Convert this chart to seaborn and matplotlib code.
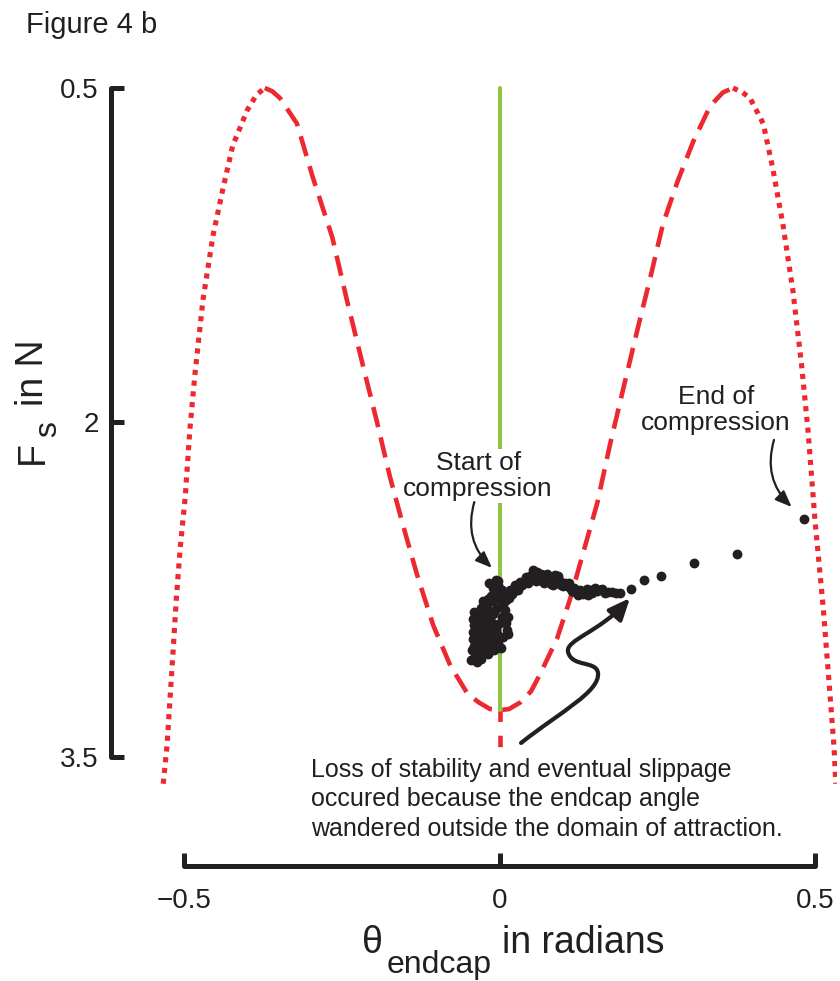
import matplotlib.pyplot as plt
from matplotlib.patches import FancyArrowPatch
from matplotlib.path import Path
import seaborn as sns

# boundary of the domain of attraction (theta_endcap in rad, F_s in N)
outer_left_theta = [-0.533, -0.527, -0.522, -0.517, -0.512, -0.506, -0.498, -0.491,
                    -0.483, -0.470, -0.454, -0.439, -0.423, -0.400, -0.385, -0.372]
outer_left_force = [3.62, 3.45, 3.23, 3.01, 2.78, 2.56, 2.33, 2.04,
                    1.79, 1.45, 1.16, 0.96, 0.76, 0.60, 0.53, 0.50]

inner_theta = [-0.372, -0.360, -0.348, -0.321, -0.296, -0.265, -0.242, -0.216, -0.194,
               -0.174, -0.153, -0.131, -0.105, -0.078, -0.051, -0.033, -0.015, 0.0,
               0.015, 0.033, 0.050, 0.064, 0.091, 0.112, 0.132, 0.155, 0.175, 0.196,
               0.218, 0.239, 0.259, 0.282, 0.307, 0.334, 0.354, 0.370]
inner_force = [0.50, 0.515, 0.545, 0.66, 0.90, 1.17, 1.45, 1.75, 2.00,
               2.24, 2.46, 2.68, 2.91, 3.09, 3.215, 3.255, 3.285, 3.29,
               3.285, 3.255, 3.205, 3.13, 2.97, 2.79, 2.59, 2.36, 2.10, 1.85,
               1.59, 1.35, 1.11, 0.92, 0.74, 0.58, 0.52, 0.50]

outer_right_theta = [0.370, 0.385, 0.397, 0.418, 0.433, 0.449, 0.465, 0.479,
                     0.489, 0.500, 0.513, 0.524, 0.530, 0.533]
outer_right_force = [0.50, 0.52, 0.545, 0.66, 0.86, 1.11, 1.41, 1.75,
                     2.04, 2.44, 2.83, 3.23, 3.45, 3.62]

# stable equilibrium and the stub below the minimum
equilibrium_theta = [0.0, 0.0]
equilibrium_force = [0.5, 3.29]
stub_theta = [0.0, 0.0]
stub_force = [3.29, 3.5]

# measured endcap angle during compression: dense blob near theta = 0 ...
blob_theta = [-0.006, -0.002, -0.010, 0.003, -0.006, -0.014, 0.002, -0.010, -0.020,
              -0.030, -0.018, -0.004, 0.008, -0.034, -0.022, -0.010, 0.004, -0.028,
              -0.014, 0.010, -0.034, -0.020, -0.006, 0.012, -0.028, -0.012, 0.006,
              -0.036, -0.040, -0.026, -0.012, -0.002, -0.038, -0.024, -0.008, -0.040,
              -0.030, -0.016, -0.002, 0.004, -0.018, -0.026, 0.006, -0.040, -0.042,
              -0.040, -0.042, -0.042, -0.044, -0.034, -0.018, -0.020, -0.004, 0.000,
              0.014, 0.014, -0.026, -0.008, -0.024, -0.008, 0.002, -0.016, -0.032,
              -0.046, -0.036]
blob_force = [2.706, 2.73, 2.74, 2.75, 2.77, 2.78, 2.79, 2.80, 2.81,
              2.83, 2.835, 2.83, 2.84, 2.86, 2.865, 2.86, 2.87, 2.89,
              2.895, 2.90, 2.92, 2.925, 2.92, 2.93, 2.95, 2.955, 2.96,
              2.97, 3.00, 2.99, 2.985, 2.99, 3.03, 3.025, 3.02, 3.055,
              3.06, 2.72, 2.71, 2.78, 2.79, 2.80, 2.81, 2.85, 2.88,
              2.91, 2.94, 2.97, 3.02, 3.045, 3.04, 2.96, 2.95, 2.90,
              2.87, 2.95, 2.84, 2.845, 2.91, 2.905, 3.01, 3.01, 3.015,
              3.065, 3.075]
# ... the arc of points drifting to positive angles ...
band_theta = [0.009, 0.017, 0.025, 0.032, 0.040, 0.048, 0.056, 0.064, 0.072, 0.080,
              0.088, 0.096, 0.104, 0.112, 0.120, 0.128, 0.135, 0.143, 0.151, 0.159,
              0.167, 0.178, 0.191, 0.020, 0.030, 0.045, 0.058, 0.070, 0.085, 0.100,
              0.115, 0.125, 0.140, 0.060, 0.076, 0.092, 0.012, 0.004, 0.008, 0.015,
              0.022, 0.028, 0.036, 0.042, 0.052, 0.066, 0.068, 0.078, 0.082, 0.094,
              0.098, 0.108, 0.110, 0.118, 0.122, 0.132, 0.138, 0.146, 0.155, 0.163,
              0.172, 0.184, 0.053, 0.047, 0.088]
band_force = [2.77, 2.75, 2.73, 2.715, 2.71, 2.69, 2.68, 2.70, 2.69, 2.71,
              2.70, 2.715, 2.72, 2.74, 2.76, 2.75, 2.76, 2.75, 2.74, 2.75,
              2.765, 2.76, 2.765, 2.77, 2.75, 2.72, 2.71, 2.72, 2.73, 2.735,
              2.755, 2.775, 2.775, 2.67, 2.68, 2.69, 2.79, 2.75, 2.80, 2.785,
              2.76, 2.735, 2.73, 2.695, 2.70, 2.68, 2.71, 2.695, 2.725, 2.705,
              2.73, 2.735, 2.72, 2.74, 2.765, 2.77, 2.745, 2.765, 2.755, 2.745,
              2.76, 2.765, 2.66, 2.705, 2.685]
# ... and the sparse trail up to the end of compression
trail_theta = [0.208, 0.229, 0.256, 0.308, 0.376, 0.483]
trail_force = [2.745, 2.706, 2.688, 2.630, 2.590, 2.433]

x_ticks = [-0.5, 0, 0.5]
x_tick_labels = ["\u22120.5", "0", "0.5"]
y_ticks = [0.5, 2, 3.5]
y_tick_labels = ["0.5", "2", "3.5"]

RED = "#ED2830"
GREEN = "#8DC63F"
INK = "#231F20"
W, H = 840, 981

sns.set_theme(style="ticks")
plt.rcParams["font.family"] = ["Liberation Sans", "DejaVu Sans"]
plt.rcParams["text.color"] = INK


def fig_xy(px, py):
    """Pixel position in the 840x981 canvas -> figure fraction."""
    return px / W, 1 - py / H


fig = plt.figure(figsize=(W / 100, H / 100), dpi=100)
ax = fig.add_axes([158.8 / W, 1 - 786.0 / H, 678.3 / W, 704.7 / H])

dashed = (0, (4.5, 2.3))
dotted = (0, (1.0, 1.1))

sns.lineplot(x=outer_left_theta, y=outer_left_force, color=RED, lw=3.7,
             linestyle=dotted, estimator=None, sort=False, ax=ax, zorder=2)
sns.lineplot(x=outer_right_theta, y=outer_right_force, color=RED, lw=3.7,
             linestyle=dotted, estimator=None, sort=False, ax=ax, zorder=2)
sns.lineplot(x=inner_theta, y=inner_force, color=RED, lw=3.3,
             linestyle=dashed, estimator=None, sort=False, ax=ax, zorder=2)
sns.lineplot(x=stub_theta, y=stub_force, color=RED, lw=3.3,
             linestyle=(0, (2.5, 3.0)), estimator=None, sort=False, ax=ax, zorder=2)
sns.lineplot(x=equilibrium_theta, y=equilibrium_force, color=GREEN, lw=2.9,
             estimator=None, sort=False, ax=ax, zorder=3)

sns.scatterplot(x=blob_theta + band_theta + trail_theta,
                y=blob_force + band_force + trail_force,
                color=INK, s=50, linewidth=0, ax=ax, zorder=4)

ax.set_xlim(-0.54, 0.535)
ax.set_ylim(3.63, 0.47)

# detached axes in the style of the original figure
sns.despine(ax=ax)
ax.spines["left"].set_bounds(0.5, 3.5)
ax.spines["left"].set_position(("outward", 34.4))
ax.spines["bottom"].set_bounds(-0.5, 0.5)
ax.spines["bottom"].set_position(("outward", 57.6))
for side in ("left", "bottom"):
    ax.spines[side].set_linewidth(3.6)
    ax.spines[side].set_color(INK)
    ax.spines[side].set_capstyle("round")

ax.set_xticks(x_ticks, x_tick_labels)
ax.set_yticks(y_ticks, y_tick_labels)
ax.tick_params(direction="in", length=9.4, width=3.6, color=INK,
               labelcolor=INK, labelsize=20)
ax.tick_params(axis="y", pad=9)
ax.tick_params(axis="x", pad=16)
ax.set_xlabel("")
ax.set_ylabel("")

# axis labels with full-size subscripts, as in the original
fig.text(*fig_xy(362, 953), "\u03b8", fontsize=27, ha="left", va="baseline")
fig.text(*fig_xy(387, 973), "endcap", fontsize=23, ha="left", va="baseline")
fig.text(*fig_xy(502, 953), "in radians", fontsize=27, ha="left", va="baseline")

rot = dict(rotation=90, rotation_mode="anchor", ha="left", va="baseline")
fig.text(*fig_xy(43, 464), "F", fontsize=27, **rot)
fig.text(*fig_xy(56, 437), "s", fontsize=23, **rot)
fig.text(*fig_xy(43, 406), "in N", fontsize=27, **rot)

fig.text(*fig_xy(26, 33), "Figure 4 b", fontsize=21, ha="left", va="baseline")

# annotations
ax.text(-0.034, 2.24, "Start of\ncompression", fontsize=19, ha="center",
        va="center", linespacing=1.1, zorder=5,
        bbox=dict(facecolor="white", edgecolor="none", pad=1.5))
ax.text(0.343, 1.944, "End of\ncompression", fontsize=19, ha="center",
        va="center", linespacing=1.1, zorder=5)
ax.text(-0.299, 3.69,
        "Loss of stability and eventual slippage\n"
        "occured because the endcap angle\n"
        "wandered outside the domain of attraction.",
        fontsize=18, ha="left", va="center", linespacing=1.3, zorder=5,
        clip_on=False, bbox=dict(facecolor="white", edgecolor="none", pad=1))

thin_head = "-|>,head_length=0.55,head_width=0.22"
ax.annotate("", xy=(-0.012, 2.652), xytext=(-0.040, 2.357),
            arrowprops=dict(arrowstyle=thin_head, color=INK, lw=1.6,
                            mutation_scale=18, shrinkA=0, shrinkB=0,
                            connectionstyle="arc3,rad=0.3"), zorder=6)
ax.annotate("", xy=(0.463, 2.379), xytext=(0.435, 2.078),
            arrowprops=dict(arrowstyle=thin_head, color=INK, lw=1.6,
                            mutation_scale=18, shrinkA=0, shrinkB=0,
                            connectionstyle="arc3,rad=0.3"), zorder=6)

s_verts = [(0.0341, 3.437),
           (0.0959, 3.298), (0.1593, 3.208), (0.1561, 3.123),
           (0.1529, 3.065), (0.1149, 3.100), (0.1086, 3.029),
           (0.1038, 2.975), (0.1593, 2.939), (0.2068, 2.787)]
s_codes = [Path.MOVETO] + [Path.CURVE4] * 9
s_arrow = FancyArrowPatch(path=Path(s_verts, s_codes),
                          arrowstyle="-|>,head_length=0.65,head_width=0.28",
                          mutation_scale=20, color=INK, lw=3.0,
                          transform=ax.transData, zorder=6)
ax.add_patch(s_arrow)

fig.savefig("out.png", dpi=100)
